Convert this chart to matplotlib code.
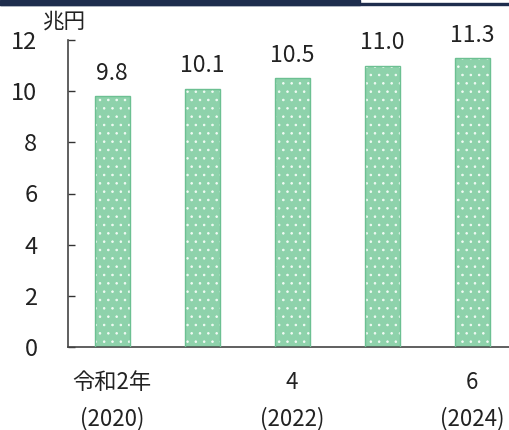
import matplotlib
matplotlib.use("Agg")
import matplotlib.pyplot as plt
from matplotlib.patches import Rectangle

plt.rcParams['font.family'] = ['Noto Sans CJK JP', 'DejaVu Sans']
plt.rcParams['hatch.linewidth'] = 0.6
plt.rcParams['hatch.color'] = 'white'

# data
years = ["令和2年\n(2020)", "3", "4\n(2022)", "5", "6\n(2024)"]
values = [9.8, 10.1, 10.5, 11.0, 11.3]
value_labels = ["9.8", "10.1", "10.5", "11.0", "11.3"]
shown_ticks = [0, 2, 4]
yticks = [0, 2, 4, 6, 8, 10, 12]
unit = "兆円"

fig = plt.figure(figsize=(5.1, 4.3), dpi=100)
ax = fig.add_axes([68 / 510, 83 / 430, 442 / 510, 307 / 430])

x = list(range(len(values)))
# fill with small white dots
ax.bar(x, values, width=0.39, color='#8ed2ab', edgecolor='#f2fbf5',
       linewidth=0, hatch='..', zorder=2)
# outline
ax.bar(x, values, width=0.39, fill=False, edgecolor='#6cc092',
       linewidth=1.0, zorder=3)

for xi, v, lab in zip(x, values, value_labels):
    ax.annotate(lab, (xi, v), xytext=(0, 8), textcoords='offset points',
                ha='center', va='bottom', fontsize=16.5, color='#222222')

ax.set_xlim(-0.49, 4.42)
ax.set_ylim(0, 12)
ax.set_yticks(yticks)
ax.set_yticklabels([str(t) for t in yticks], fontsize=17, color='#222222')
ax.set_xticks(shown_ticks)
ax.set_xticklabels([years[i] for i in shown_ticks], fontsize=16,
                   color='#222222', linespacing=1.7)
ax.tick_params(axis='y', direction='in', length=5, width=1, pad=22,
               color='#333333')
ax.tick_params(axis='x', length=0, pad=17)

for s in ['top', 'right']:
    ax.spines[s].set_visible(False)
for s in ['left', 'bottom']:
    ax.spines[s].set_color('#444444')
    ax.spines[s].set_linewidth(1.2)

fig.text(64 / 510, 1 - 22 / 430, unit, fontsize=15.5, color='#222222',
         ha='center', va='center')

# header strip at top of page
fig.patches.append(Rectangle((0, 1 - 5 / 430), 360 / 510, 5 / 430,
                             transform=fig.transFigure, color='#1e2d4d'))
fig.patches.append(Rectangle((0, 1 - 5 / 430), 1, 2 / 430,
                             transform=fig.transFigure, color='#1e2d4d'))

fig.savefig("out.png", dpi=100)
